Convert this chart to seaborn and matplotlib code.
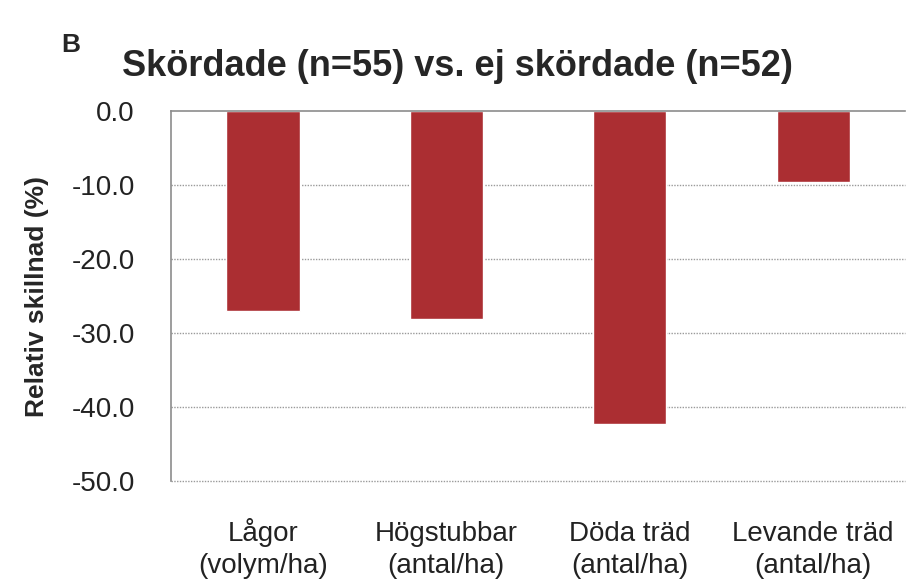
import matplotlib
import matplotlib.pyplot as plt
import pandas as pd
import seaborn as sns
from matplotlib.ticker import FormatStrFormatter

matplotlib.use("Agg")

sns.set_theme(style="white")
plt.rcParams["font.family"] = ["Liberation Sans", "DejaVu Sans"]
plt.rcParams["axes.unicode_minus"] = False

categories = ["Lågor\n(volym/ha)", "Högstubbar\n(antal/ha)",
              "Döda träd\n(antal/ha)", "Levande träd\n(antal/ha)"]
rel_diff = [-27.0, -28.1, -42.3, -9.6]
y_ticks = [0, -10, -20, -30, -40, -50]

df = pd.DataFrame({"kategori": categories, "skillnad": rel_diff})

fig = plt.figure(figsize=(9.15, 5.87), dpi=100)
ax = fig.add_axes([0.187, 0.180, 0.802, 0.631])

for t in y_ticks[1:]:
    ax.axhline(t, color="#9a9a9a", linestyle=(0, (1, 1)), linewidth=1.0,
               zorder=0, clip_on=False)

sns.barplot(data=df, x="kategori", y="skillnad", color="#AB2E32",
            saturation=1, width=0.4, ax=ax, zorder=2)

ax.set_ylim(-50, 0)
ax.set_yticks(y_ticks)
ax.yaxis.set_major_formatter(FormatStrFormatter("%.1f"))
ax.set_xlabel("")
ax.set_ylabel("Relativ skillnad (%)", fontsize=19, fontweight="bold", labelpad=16)

for s in ["right", "bottom"]:
    ax.spines[s].set_visible(False)
for s in ["left", "top"]:
    ax.spines[s].set_color("#8c8c8c")
    ax.spines[s].set_linewidth(1.2)

ax.tick_params(axis="y", length=0, labelsize=20, labelcolor="#222222", pad=26)
ax.tick_params(axis="x", length=0, labelsize=20, labelcolor="#222222", pad=66)
plt.setp(ax.get_xticklabels(), va="baseline", linespacing=1.3)

fig.text(0.067, 0.912, "B", fontsize=19, fontweight="bold")
fig.text(0.5, 0.87, "Skördade (n=55) vs. ej skördade (n=52)",
         fontsize=26, fontweight="bold", ha="center")

fig.savefig("out.png", dpi=100)
plt.close(fig)
